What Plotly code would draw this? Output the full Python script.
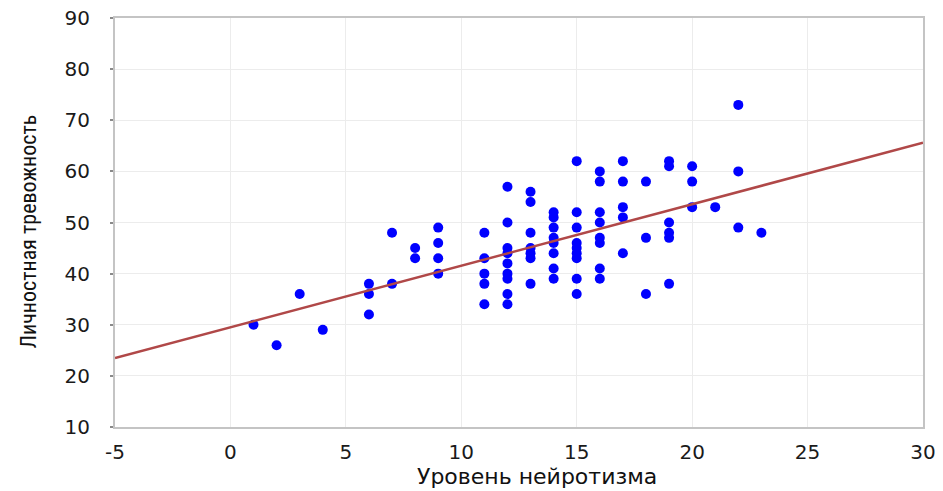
import plotly.graph_objects as go

# Neuroticism level (x) and trait anxiety (y) for each respondent
neuroticism = [
    1, 2, 3, 4,
    6, 6, 6,
    7, 7,
    8, 8,
    9, 9, 9, 9,
    11, 11, 11, 11, 11,
    12, 12, 12, 12, 12, 12, 12, 12, 12,
    13, 13, 13, 13, 13, 13, 13,
    14, 14, 14, 14, 14, 14, 14, 14,
    15, 15, 15, 15, 15, 15, 15, 15, 15,
    16, 16, 16, 16, 16, 16, 16, 16,
    17, 17, 17, 17, 17,
    18, 18, 18,
    19, 19, 19, 19, 19, 19,
    20, 20, 20,
    21,
    22, 22, 22,
    23,
]
anxiety = [
    30, 26, 36, 29,
    38, 36, 32,
    48, 38,
    45, 43,
    49, 46, 43, 40,
    48, 43, 40, 38, 34,
    57, 50, 45, 44, 42, 40, 39, 36, 34,
    56, 54, 48, 45, 44, 43, 38,
    52, 51, 49, 47, 46, 44, 41, 39,
    62, 52, 49, 46, 45, 44, 43, 39, 36,
    60, 58, 52, 50, 47, 46, 41, 39,
    62, 58, 53, 51, 44,
    58, 47, 36,
    62, 61, 50, 48, 47, 38,
    61, 58, 53,
    53,
    73, 60, 49,
    48,
]

# Regression line end points
trend_x = [-5, 30]
trend_y = [23.5, 65.6]

x_ticks = [-5, 0, 5, 10, 15, 20, 25, 30]
x_tick_labels = ["-5", "0", "5", "10", "15", "20", "25", "30"]
y_ticks = [10, 20, 30, 40, 50, 60, 70, 80, 90]
y_tick_labels = ["10", "20", "30", "40", "50", "60", "70", "80", "90"]

x_title = "Уровень нейротизма"
y_title = "Личностная тревожность"

fig = go.Figure()
fig.add_trace(go.Scatter(
    x=neuroticism, y=anxiety, mode="markers",
    marker=dict(color="#0000ff", size=10, line=dict(width=0)),
    showlegend=False, hoverinfo="x+y",
))
fig.add_trace(go.Scatter(
    x=trend_x, y=trend_y, mode="lines",
    line=dict(color="#b04848", width=2.5),
    showlegend=False, hoverinfo="skip",
))

tick_font = dict(family="DejaVu Sans, Verdana, sans-serif", size=20, color="#1a1a1a")

fig.update_layout(
    width=943, height=491,
    margin=dict(l=107, r=28, t=10, b=72, autoexpand=False),
    paper_bgcolor="white", plot_bgcolor="white",
    xaxis=dict(
        range=[-5, 30], tickvals=x_ticks, ticktext=x_tick_labels, showgrid=True,
        gridcolor="#ececec", gridwidth=1, zeroline=False,
        showline=True, linecolor="#c4c4c4", linewidth=2, mirror=True,
        ticks="", tickfont=tick_font, ticklabelstandoff=6, automargin=False,
        ticklabeloverflow="allow",
    ),
    yaxis=dict(
        range=[10, 90], tickvals=y_ticks, ticktext=y_tick_labels, showgrid=True,
        gridcolor="#ececec", gridwidth=1, zeroline=False,
        showline=True, linecolor="#c4c4c4", linewidth=2, mirror=True,
        ticks="outside", ticklen=3, tickcolor="#8a8a8a", tickwidth=2,
        tickfont=tick_font, ticklabelstandoff=16, automargin=False,
        ticklabeloverflow="allow",
    ),
    annotations=[
        dict(text=x_title, xref="paper", yref="paper",
             x=0.522, y=-0.12, xanchor="center", yanchor="middle",
             showarrow=False,
             font=dict(family="DejaVu Sans, Verdana, sans-serif", size=22, color="#111")),
        dict(text=y_title, xref="paper", yref="paper",
             x=-0.107, y=0.477, xanchor="center", yanchor="middle",
             textangle=-90, showarrow=False,
             font=dict(family="Liberation Sans Narrow, Roboto Condensed, Roboto, sans-serif",
                       size=22, color="#111")),
    ],
)

fig.write_html("out.html")
